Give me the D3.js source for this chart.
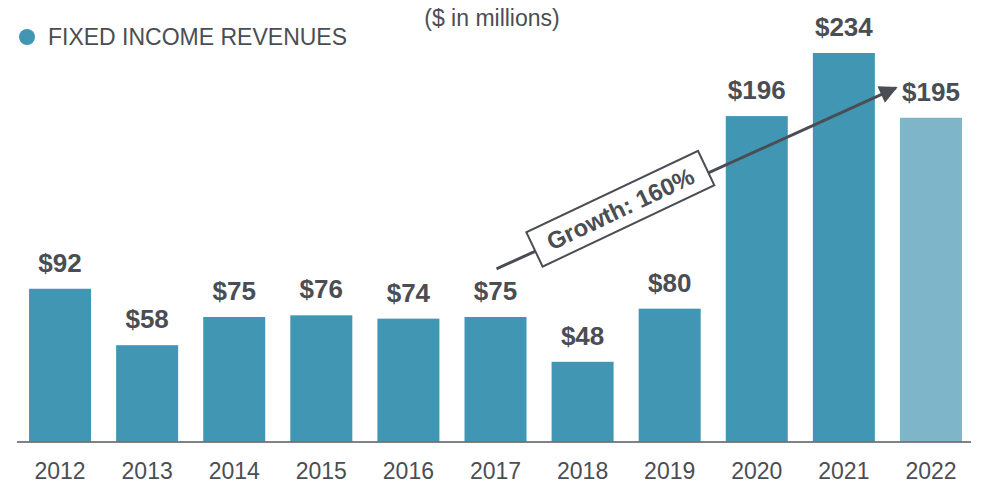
<!DOCTYPE html>
<html>
<head>
<meta charset="utf-8">
<script src="https://cdn.jsdelivr.net/npm/d3@7"></script>
<style>
  body { margin: 0; background: #fff; }
  svg { display: block; font-family: "Liberation Sans", Arial, sans-serif; }
  .val { font-weight: bold; font-size: 26px; fill: #4a4e54; text-anchor: middle; }
</style>
</head>
<body>
<svg width="982" height="485"></svg>
<script>
// **** data ****
var years = ['2012','2013','2014','2015','2016','2017','2018','2019','2020','2021','2022'];
var revenues = [92, 58, 75, 76, 74, 75, 48, 80, 196, 234, 195];
var seriesName = 'FIXED INCOME REVENUES';
var unitNote = '($ in millions)';
var growthLabel = 'Growth: 160%';
// arrow drawn in data terms: start over 2017, ends just left of the 2022 label
var arrowFrom = { year: '2017', value: 104 };
var arrowTo = { year: '2022', value: 213 };

var svg = d3.select('svg');

var xScale = d3.scaleBand().domain(years)
    .range([16.5, 974.5])
    .paddingInner(0.288)
    .paddingOuter(0.144);

var yScale = d3.scaleLinear().domain([0, 234]).range([441.5, 53]);

// bars
svg.selectAll('.bar')
    .data(revenues)
    .enter()
    .append('rect')
    .attr('class', 'bar')
    .attr('x', function(d, i) { return xScale(years[i]); })
    .attr('width', xScale.bandwidth())
    .attr('y', function(d) { return yScale(d); })
    .attr('height', function(d) { return yScale(0) - yScale(d); })
    .attr('fill', function(d, i) { return i === years.length - 1 ? '#7fb5c9' : '#4196b4'; });

// baseline
svg.append('line')
    .attr('x1', 17).attr('x2', 971)
    .attr('y1', yScale(0) + 0.5).attr('y2', yScale(0) + 0.5)
    .attr('stroke', '#55595e')
    .attr('stroke-width', 1.5);

// year labels
svg.append('g').attr('class', 'year')
    .attr('transform', 'translate(0,' + yScale(0) + ')')
    .call(d3.axisBottom(xScale).tickSize(0).tickPadding(21))
    .call(function(g) { g.select('.domain').remove(); })
    .selectAll('text')
    .attr('font-family', '"Liberation Sans", Arial, sans-serif')
    .attr('font-size', 23)
    .attr('fill', '#4a4e54');

// value labels
svg.selectAll('.val')
    .data(revenues)
    .enter()
    .append('text')
    .attr('class', 'val')
    .attr('x', function(d, i) { return xScale(years[i]) + xScale.bandwidth() / 2; })
    .attr('y', function(d) { return yScale(d) - 17; })
    .text(function(d) { return '$' + d; });

// legend
svg.append('circle')
    .attr('cx', 27).attr('cy', 37).attr('r', 8)
    .attr('fill', '#4196b4');
svg.append('text')
    .attr('x', 48).attr('y', 45)
    .attr('font-size', 23)
    .attr('fill', '#4a4e54')
    .text(seriesName);

svg.append('text')
    .attr('x', 492).attr('y', 26)
    .attr('text-anchor', 'middle')
    .attr('font-size', 23)
    .attr('fill', '#4a4e54')
    .text(unitNote);

// growth arrow
var x0 = xScale(arrowFrom.year) + xScale.bandwidth() / 2 + 1,
    y0 = yScale(arrowFrom.value),
    x1 = xScale(arrowTo.year) - 4,
    y1 = yScale(arrowTo.value);

svg.append('defs').append('marker')
    .attr('id', 'head')
    .attr('viewBox', '0 0 10 10')
    .attr('refX', 9).attr('refY', 5)
    .attr('markerWidth', 7).attr('markerHeight', 6)
    .attr('markerUnits', 'strokeWidth')
    .attr('orient', 'auto')
    .append('path')
    .attr('d', 'M0,0 L10,5 L0,10 Z')
    .attr('fill', '#4a4e54');

svg.append('line')
    .attr('x1', x0).attr('y1', y0)
    .attr('x2', x1).attr('y2', y1)
    .attr('stroke', '#4a4e54')
    .attr('stroke-width', 3)
    .attr('marker-end', 'url(#head)');

var angle = Math.atan2(y1 - y0, x1 - x0) * 180 / Math.PI;
var t = 0.31;
var bx = x0 + (x1 - x0) * t, by = y0 + (y1 - y0) * t - 4;
var box = svg.append('g')
    .attr('transform', 'translate(' + bx + ',' + by + ') rotate(' + (angle - 1) + ')');
box.append('rect')
    .attr('x', -95).attr('y', -19)
    .attr('width', 190).attr('height', 38)
    .attr('fill', '#fff')
    .attr('stroke', '#4a4e54')
    .attr('stroke-width', 2);
box.append('text')
    .attr('text-anchor', 'middle')
    .attr('y', 8.5)
    .attr('font-size', 24)
    .attr('font-weight', 'bold')
    .attr('fill', '#4a4e54')
    .text(growthLabel);
</script>
</body>
</html>
